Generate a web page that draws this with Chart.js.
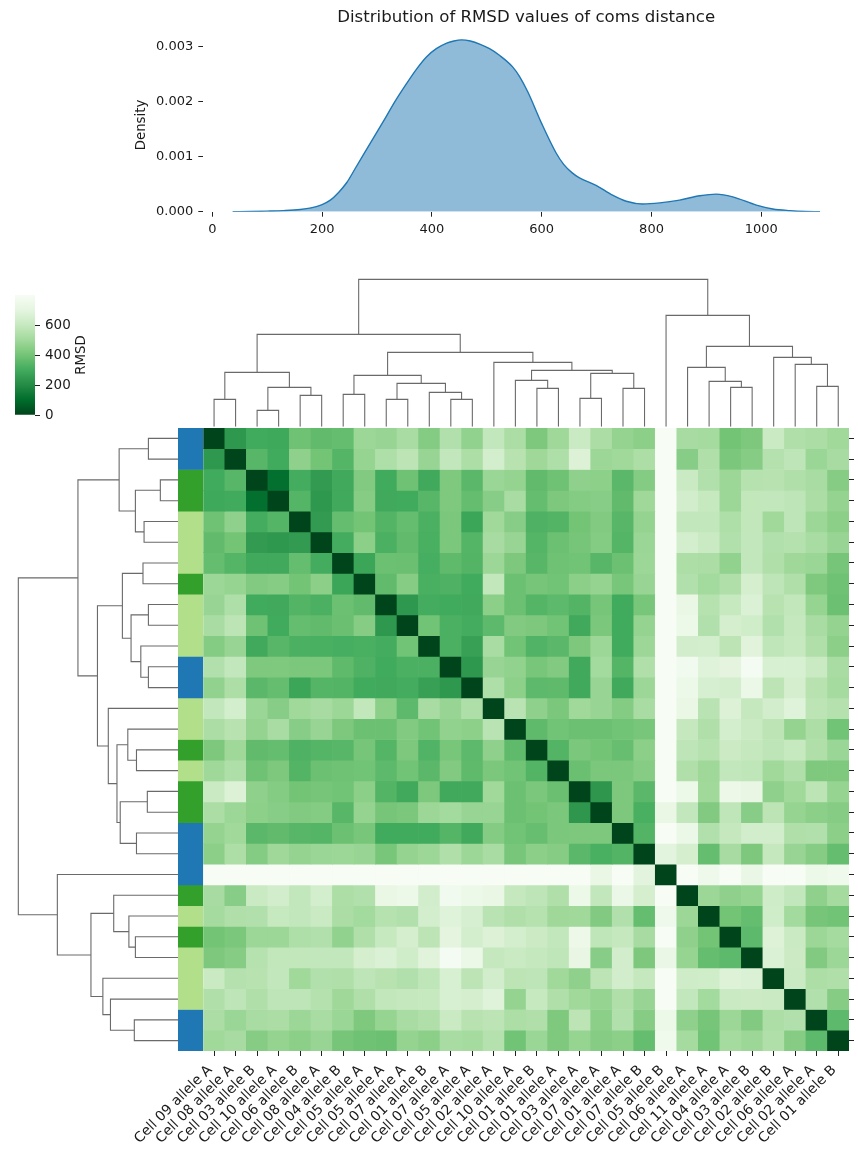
<!DOCTYPE html>
<html>
<head>
<meta charset="utf-8">
<title>RMSD clustermap</title>
<style>
  html, body { margin: 0; padding: 0; background: #fff; }
  #stage { position: relative; width: 858px; height: 1157px; overflow: hidden; }
  #stage canvas { position: absolute; left: 0; top: 0; }
</style>
<script src="https://cdn.jsdelivr.net/npm/chart.js@4/dist/chart.umd.min.js"></script>
</head>
<body>
<div id="stage">
  <canvas id="kde" width="858" height="1157"></canvas>
  <canvas id="cbar" width="858" height="1157"></canvas>
  <canvas id="dendroTop" width="858" height="1157"></canvas>
  <canvas id="dendroLeft" width="858" height="1157"></canvas>
  <canvas id="strip" width="858" height="1157"></canvas>
  <canvas id="heat" width="858" height="1157"></canvas>
</div>
<script>
// ---- Density curve of all pairwise RMSD values ----
const kdeX = [37,70,100,130,160,180,200,215,230,245,260,275,293,311,332,354,372,390,408,427,440,454,470,488,505,523,547,560,575,600,626,640,655,668,699,729,754,784,815,851,888,918,948,991,1021,1052,1080,1107];
const kdeY = [0,0.000003,0.00001,0.00002,0.00004,0.00007,0.00013,0.00021,0.00035,0.00053,0.00078,0.00103,0.00133,0.00163,0.00199,0.00233,0.00259,0.00281,0.00296,0.00306,0.0031,0.00312,0.0031,0.00304,0.00296,0.00284,0.00263,0.00245,0.00217,0.0016,0.00107,0.00086,0.00071,0.00062,0.00048,0.0003,0.00019,0.00014,0.00016,0.00021,0.00029,0.00032,0.00027,0.00012,0.00005,0.00002,0.000005,0];
const kdeXTicks = [0,200,400,600,800,1000];
const kdeYTicks = [0,0.001,0.002,0.003];

// ---- Heatmap labels ----
const cellLabels = [
  "Cell 09 allele A","Cell 08 allele A","Cell 03 allele B","Cell 10 allele A","Cell 06 allele B",
  "Cell 08 allele A","Cell 04 allele B","Cell 05 allele A","Cell 05 allele A","Cell 07 allele A",
  "Cell 01 allele B","Cell 07 allele A","Cell 05 allele A","Cell 02 allele A","Cell 10 allele A",
  "Cell 01 allele B","Cell 01 allele A","Cell 03 allele A","Cell 07 allele A","Cell 01 allele A",
  "Cell 07 allele B","Cell 05 allele B","Cell 06 allele A","Cell 11 allele A","Cell 04 allele A",
  "Cell 03 allele B","Cell 02 allele B","Cell 06 allele A","Cell 02 allele A","Cell 01 allele B"
];

// Row group of each leaf (0 = blue, 1 = dark green, 2 = light green)
const rowGroups = [0,0,1,1,2,2,2,1,2,2,2,0,0,2,2,1,2,1,1,0,0,0,1,2,1,2,2,2,0,0];
const groupColors = ["#1f78b4","#33a02c","#b2df8a"];

// ---- Distance matrix: symmetric, so each row starts at its diagonal ----
const rmsdRow00 = [0,240,300,290,390,365,370,490,480,520,435,545,465,590,525,420,495,605,525,470,450,920,515,510,400,420,610,540,525,500];
const rmsdRow01 = [0,345,300,460,400,340,475,535,570,480,590,530,640,560,495,535,670,490,500,530,920,445,540,415,440,550,575,485,515];
const rmsdRow02 = [0,110,305,250,295,430,300,390,295,425,350,485,470,365,390,460,455,350,435,920,605,545,490,555,560,540,520,440];
const rmsdRow03 = [0,340,240,295,440,295,300,345,425,370,445,520,370,420,435,445,365,495,920,635,600,490,585,590,575,525,470];
const rmsdRow04 = [0,250,370,400,335,370,320,415,280,500,445,325,335,400,430,345,470,930,590,590,535,585,500,575,490,450];
const rmsdRow05 = [0,305,450,320,365,315,415,340,515,480,340,385,405,435,340,485,930,640,610,545,590,545,550,520,480];
const rmsdRow06 = [0,280,385,380,310,360,335,490,420,345,390,395,345,385,490,930,530,525,465,590,540,495,485,405];
const rmsdRow07 = [0,365,440,315,325,300,585,385,405,395,450,470,410,480,930,545,505,540,645,575,540,425,390];
const rmsdRow08 = [0,240,305,300,295,450,385,340,355,335,405,300,410,930,725,555,600,665,560,585,475,385];
const rmsdRow09 = [0,395,320,305,355,430,420,395,295,415,300,470,930,740,545,645,630,545,595,520,470];
const rmsdRow10 = [0,320,265,520,395,330,350,420,490,300,490,930,635,640,570,685,580,600,540,450];
const rmsdRow11 = [0,240,480,465,410,430,295,505,340,540,930,765,680,695,785,655,655,605,520];
const rmsdRow12 = [0,535,455,355,360,295,480,295,490,930,740,650,640,735,570,645,560,510];
const rmsdRow13 = [0,565,460,415,500,480,435,520,930,725,565,670,595,635,680,570,550];
const rmsdRow14 = [0,360,395,385,385,395,410,930,595,540,640,610,570,470,530,395];
const rmsdRow15 = [0,335,415,400,375,450,930,575,555,615,595,575,600,540,485];
const rmsdRow16 = [0,380,415,415,440,930,540,495,590,580,500,540,425,425];
const rmsdRow17 = [0,235,420,350,930,740,500,745,720,460,500,570,475];
const rmsdRow18 = [0,420,315,725,590,430,580,445,570,475,450,440];
const rmsdRow19 = [0,335,930,735,545,595,635,635,540,545,450];
const rmsdRow20 = [0,690,645,370,515,420,595,480,440,370];
const rmsdRow21 = [0,930,750,930,730,930,930,740,755];
const rmsdRow22 = [0,490,460,475,625,590,460,510];
const rmsdRow23 = [0,400,370,630,505,405,395];
const rmsdRow24 = [0,355,675,610,490,510];
const rmsdRow25 = [0,665,615,430,490];
const rmsdRow26 = [0,605,530,540];
const rmsdRow27 = [0,545,440];
const rmsdRow28 = [0,355];
const rmsdRow29 = [0];

// ---- Linkage: [child a, child b, height]; ids 0-29 are leaves, 30+ are merges in order ----
const linkage = [
  [0,1,27.3],[2,3,16.3],[4,5,31.3],[31,32,39.3],[30,33,54.3],
  [6,7,32.3],[8,9,27.3],[11,12,27.3],[10,37,34.3],[36,38,43.3],
  [35,39,51.3],[15,16,38.3],[14,41,46.3],[17,18,28.3],[19,20,38.3],
  [43,44,53.3],[42,45,56.3],[13,46,64.3],[40,47,74.3],[34,48,92.3],
  [24,25,39.3],[23,50,45.3],[22,51,59.3],[28,29,40.3],[27,53,62.3],
  [26,54,69.3],[52,55,80.3],[21,56,111.3],[49,57,147.3]
];

const colorbarTicks = [0,200,400,600];
const colorMax = 800;

// Reversed Greens colour map, dark at zero distance
const greens = ["#00441b","#006d2c","#238b45","#41ab5d","#74c476","#a1d99b","#c7e9c0","#e5f5e0","#f7fcf5"];

function hexRgb(h) {
  return [parseInt(h.slice(1,3),16), parseInt(h.slice(3,5),16), parseInt(h.slice(5,7),16)];
}
function rmsdColor(v) {
  const t = Math.min(Math.max(v / colorMax, 0), 1) * (greens.length - 1);
  const i = Math.min(Math.floor(t), greens.length - 2);
  const f = t - i, a = hexRgb(greens[i]), b = hexRgb(greens[i + 1]);
  return `rgb(${a.map((c, k) => Math.round(c + (b[k] - c) * f)).join(",")})`;
}

const rmsdUpper = [rmsdRow00,rmsdRow01,rmsdRow02,rmsdRow03,rmsdRow04,rmsdRow05,rmsdRow06,rmsdRow07,rmsdRow08,rmsdRow09,
  rmsdRow10,rmsdRow11,rmsdRow12,rmsdRow13,rmsdRow14,rmsdRow15,rmsdRow16,rmsdRow17,rmsdRow18,rmsdRow19,
  rmsdRow20,rmsdRow21,rmsdRow22,rmsdRow23,rmsdRow24,rmsdRow25,rmsdRow26,rmsdRow27,rmsdRow28,rmsdRow29];
const rmsdAt = (r, c) => r <= c ? rmsdUpper[r][c - r] : rmsdUpper[c][r - c];

// ---- Shared settings ----
const W = 858, H = 1157;
const FONT = "'DejaVu Sans', sans-serif";
const TEXT = "#1a1a1a";
const GRID = { left: 203.3, right: 849, top: 428, bottom: 1051 };

Chart.defaults.font.family = FONT;
Chart.defaults.color = TEXT;
Chart.defaults.animation = false;
Chart.defaults.responsive = false;
Chart.defaults.plugins.legend.display = false;
Chart.defaults.plugins.tooltip.enabled = false;

const fixHeight = h => s => { s.height = h; s.paddingLeft = 0; s.paddingRight = 0; };
const fixWidth  = w => s => { s.width = w; s.paddingTop = 0; s.paddingBottom = 0; };
const tickMarks = { drawOnChartArea: false, drawTicks: true, tickLength: 5, tickColor: "#222", tickWidth: 1 };

// ---- Density plot ----
new Chart(document.getElementById("kde"), {
  type: "scatter",
  data: { datasets: [{
    data: kdeX.map((x, i) => ({ x, y: kdeY[i] })),
    showLine: true,
    pointRadius: 0,
    borderColor: "#1f77b4",
    borderWidth: 1.4,
    backgroundColor: "rgba(31,119,180,0.5)",
    fill: "origin",
    cubicInterpolationMode: "monotone"
  }]},
  options: {
    layout: { padding: { left: 133.2, right: W - GRID.right, top: 0, bottom: H - 241.7 } },
    plugins: {
      title: {
        display: true,
        fullSize: false,
        text: "Distribution of RMSD values of coms distance",
        font: { size: 16.6, weight: "normal", family: FONT },
        color: TEXT,
        padding: { top: 8, bottom: 10.3 }
      }
    },
    scales: {
      x: {
        type: "linear", min: -16.4, max: 1159.7,
        border: { display: false },
        grid: tickMarks,
        afterBuildTicks: a => { a.ticks = kdeXTicks.map(value => ({ value })); },
        afterFit: fixHeight(30),
        ticks: { autoSkip: false, maxRotation: 0, padding: 5, font: { size: 13 }, callback: v => String(v) }
      },
      y: {
        type: "linear", min: 0, max: 0.00315,
        border: { display: false },
        grid: tickMarks,
        afterBuildTicks: a => { a.ticks = kdeYTicks.map(value => ({ value })); },
        afterFit: fixWidth(70.1),
        title: { display: true, text: "Density", font: { size: 13.3 }, padding: 0, color: TEXT },
        ticks: { autoSkip: false, padding: 5, font: { size: 13 }, callback: v => v.toFixed(3) }
      }
    }
  }
});

// ---- Colour bar ----
const rmsdAxisTitle = {
  id: "rmsdAxisTitle",
  afterDraw(chart) {
    const { ctx, chartArea } = chart;
    ctx.save();
    ctx.translate(82, (chartArea.top + chartArea.bottom) / 2);
    ctx.rotate(-Math.PI / 2);
    ctx.font = `13.3px ${FONT}`;
    ctx.fillStyle = TEXT;
    ctx.textAlign = "center";
    ctx.textBaseline = "middle";
    ctx.fillText("RMSD", 0, 0);
    ctx.restore();
  }
};
new Chart(document.getElementById("cbar"), {
  type: "bar",
  plugins: [rmsdAxisTitle],
  data: {
    labels: ["RMSD"],
    datasets: [{
      data: [[0, colorMax]],
      barPercentage: 1,
      categoryPercentage: 1,
      backgroundColor: ctx => {
        const area = ctx.chart.chartArea;
        if (!area) return greens[4];
        const g = ctx.chart.ctx.createLinearGradient(0, area.bottom, 0, area.top);
        greens.forEach((c, i) => g.addColorStop(i / (greens.length - 1), c));
        return g;
      }
    }]
  },
  options: {
    layout: { padding: { left: 15, right: W - 35 - 60, top: 295, bottom: H - 415 } },
    scales: {
      x: { display: false },
      y: {
        position: "right", min: 0, max: colorMax,
        border: { display: false },
        grid: tickMarks,
        afterBuildTicks: a => { a.ticks = colorbarTicks.map(value => ({ value })); },
        afterFit: fixWidth(60),
        ticks: { autoSkip: false, padding: 5, font: { size: 13.5 }, callback: v => String(v) }
      }
    }
  }
});

// ---- Dendrograms: one polyline per merge, positions in leaf units ----
function dendroSegments(toPoint) {
  const pos = [], hgt = [];
  cellLabels.forEach((_, i) => { pos[i] = i + 0.5; hgt[i] = 0; });
  return linkage.map(([a, b, h], i) => {
    const id = cellLabels.length + i;
    pos[id] = (pos[a] + pos[b]) / 2;
    hgt[id] = h;
    return {
      data: [toPoint(pos[a], hgt[a]), toPoint(pos[a], h), toPoint(pos[b], h), toPoint(pos[b], hgt[b])],
      showLine: true, pointRadius: 0, borderColor: "#6a6a6a", borderWidth: 1.1,
      borderJoinStyle: "miter", tension: 0
    };
  });
}

new Chart(document.getElementById("dendroTop"), {
  type: "scatter",
  data: { datasets: dendroSegments((p, h) => ({ x: p, y: h })) },
  options: {
    layout: { padding: { left: GRID.left, right: W - GRID.right, top: 270, bottom: H - 426.7 } },
    scales: {
      x: { type: "linear", display: false, min: 0, max: cellLabels.length },
      y: { type: "linear", display: false, min: 0, max: 156.7 }
    }
  }
});

new Chart(document.getElementById("dendroLeft"), {
  type: "scatter",
  data: { datasets: dendroSegments((p, h) => ({ x: h, y: p })) },
  options: {
    layout: { padding: { left: 0, right: W - 178, top: GRID.top, bottom: H - GRID.bottom } },
    scales: {
      x: { type: "linear", display: false, reverse: true, min: 0, max: 164.2 },
      y: { type: "linear", display: false, reverse: true, min: 0, max: cellLabels.length }
    }
  }
});

// ---- Row colour strip ----
new Chart(document.getElementById("strip"), {
  type: "bar",
  data: {
    labels: ["group"],
    datasets: rowGroups.map((g, r) => ({
      data: [[r, r + 1]],
      backgroundColor: groupColors[g],
      barPercentage: 1,
      categoryPercentage: 1,
      grouped: false
    }))
  },
  options: {
    layout: { padding: { left: 178, right: W - GRID.left, top: GRID.top, bottom: H - GRID.bottom } },
    scales: {
      x: { display: false },
      y: { display: false, reverse: true, min: 0, max: cellLabels.length }
    }
  }
});

// ---- Heatmap: one floating-bar dataset per row, coloured by its RMSD ----
new Chart(document.getElementById("heat"), {
  type: "bar",
  data: {
    labels: cellLabels,
    datasets: cellLabels.map((_, r) => ({
      label: "row " + r,
      data: cellLabels.map((__, c) => ({ x: c, y: [r, r + 1], rmsd: rmsdAt(r, c) })),
      backgroundColor: ctx => rmsdColor(ctx.raw.rmsd),
      barPercentage: 1,
      categoryPercentage: 1,
      grouped: false
    }))
  },
  options: {
    layout: { padding: { left: GRID.left, right: 0, top: GRID.top, bottom: 0 } },
    scales: {
      x: {
        border: { display: false },
        grid: { ...tickMarks, offset: false },
        afterFit: fixHeight(H - GRID.bottom),
        ticks: { autoSkip: false, minRotation: 45, maxRotation: 45, padding: 6, labelOffset: -4, font: { size: 13.9 } }
      },
      y: {
        position: "right", reverse: true, min: 0, max: cellLabels.length,
        border: { display: false },
        grid: tickMarks,
        afterBuildTicks: a => { a.ticks = cellLabels.map((_, r) => ({ value: r + 0.5 })); },
        afterFit: fixWidth(W - GRID.right),
        ticks: { autoSkip: false, padding: 0, callback: () => "" }
      }
    }
  }
});
</script>
</body>
</html>
